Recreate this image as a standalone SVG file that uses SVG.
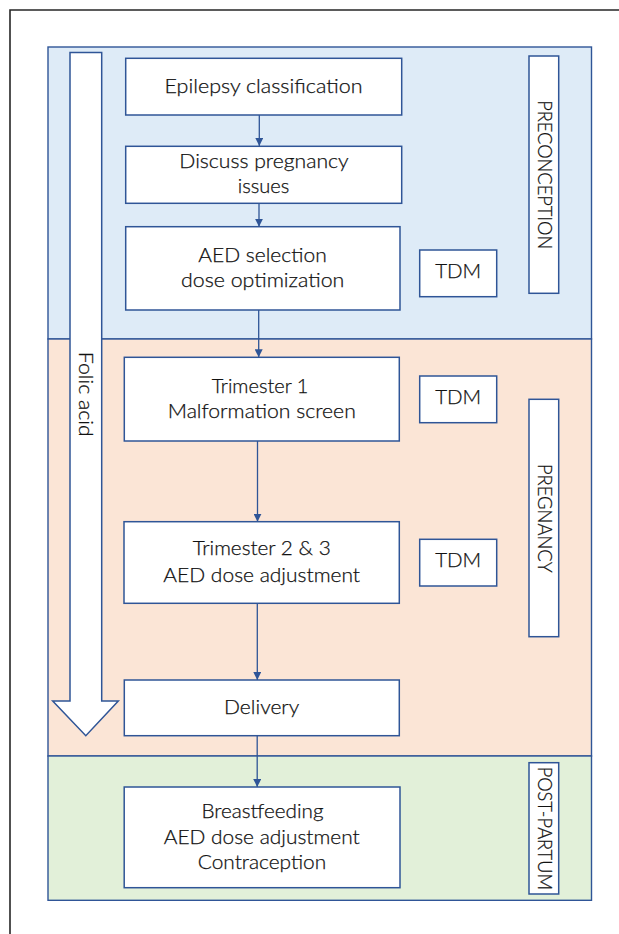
<svg xmlns="http://www.w3.org/2000/svg" width="619" height="934" viewBox="0 0 619 934">
  <style>
    .frame { fill: none; stroke: #262626; stroke-width: 1.6; }
    .band { stroke: #2F5597; stroke-width: 1.4; }
    .box { fill: #FFFFFF; stroke: #2F5597; stroke-width: 1.5; }
    .lbl { font-family: "Lato", "Open Sans", "Liberation Sans", sans-serif; font-weight: 300; font-size: 19.5px; fill: #111111; stroke: #111111; stroke-width: 0.25; text-anchor: middle; }
    .vlbl { font-family: "Lato", "Open Sans", "Liberation Sans", sans-serif; font-weight: 300; font-size: 19px; fill: #111111; stroke: #111111; stroke-width: 0.25; text-anchor: middle; }
    .conn { fill: none; stroke: #2F5597; stroke-width: 1.3; }
  </style>
  <defs>
    <marker id="head" viewBox="0 0 8 8" refX="8" refY="4" markerWidth="8" markerHeight="8" markerUnits="userSpaceOnUse" orient="auto">
      <path d="M0,0 L8,4 L0,8 Z" fill="#2F5597"/>
    </marker>
  </defs>

  <!-- page frame -->
  <path class="frame" d="M10,934 V10 H619"/>

  <!-- phase bands -->
  <g id="bands">
    <rect class="band" x="48" y="47" width="543.5" height="292" fill="#DEEBF7"/>
    <rect class="band" x="48" y="339" width="543.5" height="417" fill="#FBE5D6"/>
    <rect class="band" x="48" y="756" width="543.5" height="144.3" fill="#E2F0D9"/>
  </g>

  <!-- folic acid arrow running through the first two phases -->
  <g id="folic-acid">
    <polygon class="box" points="70,52.5 101.7,52.5 101.7,701 118.3,701 85.8,735.7 52.7,701 70,701"/>
    <text class="vlbl" font-size="20" transform="translate(78.5,394.3) rotate(90)" textLength="85" lengthAdjust="spacingAndGlyphs">Folic acid</text>
  </g>

  <!-- connectors -->
  <g id="connectors">
    <line class="conn" x1="259.3" y1="115" x2="259.3" y2="146" marker-end="url(#head)"/>
    <line class="conn" x1="259" y1="203.3" x2="259" y2="226.7" marker-end="url(#head)"/>
    <line class="conn" x1="258.7" y1="310" x2="258.7" y2="357.3" marker-end="url(#head)"/>
    <line class="conn" x1="257.5" y1="441" x2="257.5" y2="521.7" marker-end="url(#head)"/>
    <line class="conn" x1="257.3" y1="603.3" x2="257.3" y2="680" marker-end="url(#head)"/>
    <line class="conn" x1="257.2" y1="735.7" x2="257.2" y2="787" marker-end="url(#head)"/>
  </g>

  <!-- process steps -->
  <g id="epilepsy-classification">
    <rect class="box" x="125.7" y="58.3" width="276" height="56.7"/>
    <text class="lbl" x="263.5" y="93.3" textLength="198" lengthAdjust="spacingAndGlyphs">Epilepsy classification</text>
  </g>
  <g id="discuss-pregnancy">
    <rect class="box" x="125.7" y="146.3" width="276" height="57"/>
    <text class="lbl" x="264" y="168.3" textLength="169.4" lengthAdjust="spacingAndGlyphs">Discuss pregnancy</text>
    <text class="lbl" x="263.5" y="193.3" textLength="51.6" lengthAdjust="spacingAndGlyphs">issues</text>
  </g>
  <g id="aed-selection">
    <rect class="box" x="125.7" y="226.7" width="274.3" height="83.3"/>
    <text class="lbl" x="262.5" y="262.3" textLength="128.4" lengthAdjust="spacingAndGlyphs">AED selection</text>
    <text class="lbl" x="262.7" y="287.3" textLength="163.3" lengthAdjust="spacingAndGlyphs">dose optimization</text>
  </g>
  <g id="trimester-1">
    <rect class="box" x="124.3" y="357.3" width="275" height="83.7"/>
    <text class="lbl" x="260" y="392.7" textLength="96.7" lengthAdjust="spacingAndGlyphs">Trimester 1</text>
    <text class="lbl" x="261.8" y="418.3" textLength="188" lengthAdjust="spacingAndGlyphs">Malformation screen</text>
  </g>
  <g id="trimester-2-3">
    <rect class="box" x="124" y="521.7" width="275.3" height="81.6"/>
    <text class="lbl" x="261.7" y="555" textLength="138" lengthAdjust="spacingAndGlyphs">Trimester 2 &amp; 3</text>
    <text class="lbl" x="261.7" y="581.7" textLength="196.7" lengthAdjust="spacingAndGlyphs">AED dose adjustment</text>
  </g>
  <g id="delivery">
    <rect class="box" x="124.3" y="680" width="275" height="55.7"/>
    <text class="lbl" x="261.7" y="714" textLength="75.3" lengthAdjust="spacingAndGlyphs">Delivery</text>
  </g>
  <g id="post-partum-care">
    <rect class="box" x="124.2" y="787" width="275.8" height="100.7"/>
    <text class="lbl" x="262.5" y="818.3" textLength="122" lengthAdjust="spacingAndGlyphs">Breastfeeding</text>
    <text class="lbl" x="261.7" y="844" textLength="196" lengthAdjust="spacingAndGlyphs">AED dose adjustment</text>
    <text class="lbl" x="262" y="869" textLength="128.5" lengthAdjust="spacingAndGlyphs">Contraception</text>
  </g>

  <!-- therapeutic drug monitoring -->
  <g id="tdm-preconception">
    <rect class="box" x="419.7" y="250" width="77" height="46.7"/>
    <text class="lbl" x="458.2" y="278" textLength="46" lengthAdjust="spacingAndGlyphs">TDM</text>
  </g>
  <g id="tdm-trimester-1">
    <rect class="box" x="419.7" y="376" width="77" height="46.7"/>
    <text class="lbl" x="458.2" y="404" textLength="46" lengthAdjust="spacingAndGlyphs">TDM</text>
  </g>
  <g id="tdm-trimester-2-3">
    <rect class="box" x="419.7" y="539.3" width="77" height="46.7"/>
    <text class="lbl" x="458.2" y="567.3" textLength="46" lengthAdjust="spacingAndGlyphs">TDM</text>
  </g>

  <!-- phase labels -->
  <g id="phase-preconception">
    <rect class="box" x="529" y="56" width="29.7" height="237.3"/>
    <text class="vlbl" transform="translate(537.8,174.7) rotate(90)" textLength="149" lengthAdjust="spacingAndGlyphs">PRECONCEPTION</text>
  </g>
  <g id="phase-pregnancy">
    <rect class="box" x="529" y="399.3" width="29.7" height="237.4"/>
    <text class="vlbl" transform="translate(537.8,518.3) rotate(90)" textLength="108.7" lengthAdjust="spacingAndGlyphs">PREGNANCY</text>
  </g>
  <g id="phase-post-partum">
    <rect class="box" x="529" y="762.7" width="29.7" height="131.3"/>
    <text class="vlbl" transform="translate(537.8,828.3) rotate(90)" textLength="123.3" lengthAdjust="spacingAndGlyphs">POST-PARTUM</text>
  </g>
</svg>
